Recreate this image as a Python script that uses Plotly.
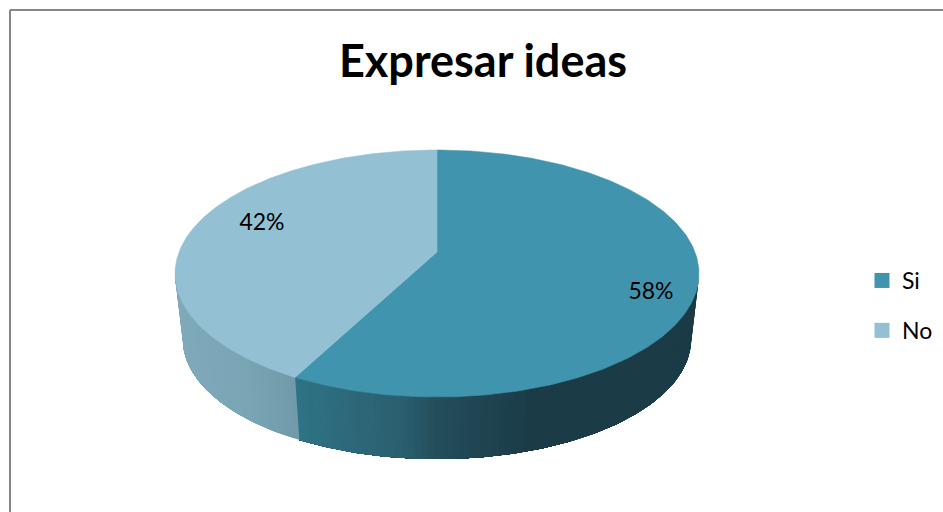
import numpy as np
import plotly.graph_objects as go

# ---- data ----
categories = ["Si", "No"]
values = [57.7, 42.3]
percent_labels = ["58%", "42%"]
title_text = "Expresar ideas"

# ---- style / projection of the tilted disc (screen pixels) ----
top_colors = {"Si": "#4094ae", "No": "#93c0d3"}
W, H = 943, 512
CX, APEX_Y = 437.0, 252.0
A, B, K = 258.0, 119.8, 0.174
LOWER_SCALE, LOWER_APEX_Y = 0.97, 318.4
label_pos = {"Si": (651, 293.5), "No": (262, 224)}

side_stops = {
    "Si": [(296, (47, 114, 133)), (400, (42, 95, 111)), (437, (35, 77, 91)),
           (530, (27, 59, 71)), (700, (27, 59, 71))],
    "No": [(175, (128, 170, 187)), (240, (122, 165, 181)), (300, (111, 152, 168))],
}


def project(theta_deg, scale=1.0, apex_y=APEX_Y):
    t = np.radians(theta_deg)
    u, v = np.sin(t), np.cos(t)
    d = 1 + K * v
    return CX + scale * A * u / d, apex_y - scale * B * v / d


def side_color(cat, x):
    stops = side_stops[cat]
    xs = [s[0] for s in stops]
    rgb = [int(round(np.interp(x, xs, [s[1][i] for s in stops]))) for i in range(3)]
    return "rgb(%d,%d,%d)" % tuple(rgb)


total = sum(values)
bounds = np.concatenate([[0], np.cumsum(values) / total * 360])
EDGE = np.degrees(np.arcsin(K))
vis_lo, vis_hi = 90 + EDGE, 270 - EDGE

fig = go.Figure()

# side wall: painted in overlapping bands so the shading runs horizontally
for i, cat in enumerate(categories):
    lo, hi = max(bounds[i], vis_lo), min(bounds[i + 1], vis_hi)
    if hi <= lo:
        continue
    starts = np.linspace(lo, hi, int((hi - lo) * 0.8) + 2)[:-1]
    for a in starts:
        # a band colour covers everything from its start to the slice end
        arc = np.linspace(a, hi, max(int((hi - a) * 1.5), 2))
        x1, y1 = project(arc)
        x2, y2 = project(arc[::-1], LOWER_SCALE, LOWER_APEX_Y)
        b = min(a + 2.0, hi)
        xa = (project(a)[0] + project(b)[0]) / 2
        col = side_color(cat, xa)
        fig.add_trace(go.Scatter(
            x=np.r_[x1, x2, x1[0]], y=np.r_[y1, y2, y1[0]], mode="lines",
            fill="toself", fillcolor=col, line=dict(color=col, width=0),
            showlegend=False, hoverinfo="skip"))

# top faces
for i, cat in enumerate(categories):
    arc = np.linspace(bounds[i], bounds[i + 1], 240)
    x, y = project(arc)
    fig.add_trace(go.Scatter(
        x=np.r_[CX, x, CX], y=np.r_[APEX_Y, y, APEX_Y], mode="lines",
        fill="toself", fillcolor=top_colors[cat],
        line=dict(color=top_colors[cat], width=0.5),
        showlegend=False, hovertemplate=f"{cat}: {percent_labels[i]}<extra></extra>"))

# percent labels
for i, cat in enumerate(categories):
    lx, ly = label_pos[cat]
    fig.add_trace(go.Scatter(
        x=[lx], y=[ly], mode="text", text=[percent_labels[i]],
        textfont=dict(family="Lato", size=23, color="#000000"),
        showlegend=False, hoverinfo="skip"))

# legend entries
for cat in categories:
    fig.add_trace(go.Scatter(
        x=[None], y=[None], mode="markers", name=cat, legendgroup=cat,
        marker=dict(symbol="square", size=15, color=top_colors[cat])))

fig.update_layout(
    width=W, height=H, margin=dict(l=0, r=0, t=0, b=0),
    paper_bgcolor="white", plot_bgcolor="white",
    xaxis=dict(range=[0, W], visible=False, fixedrange=True),
    yaxis=dict(range=[H, 0], visible=False, fixedrange=True),
    title=dict(text=f"<b>{title_text}</b>", x=483 / W, y=1 - 61 / H, xanchor="center", yanchor="middle",
               font=dict(family="Lato", size=45, color="#000000")),
    legend=dict(x=862 / W, y=1 - 259 / H, xanchor="left", yanchor="top",
                font=dict(family="Lato", size=23, color="#000000"),
                tracegroupgap=17, bgcolor="rgba(0,0,0,0)", itemclick=False, itemdoubleclick=False),
    shapes=[
        dict(type="line", xref="x", yref="y", x0=10, x1=W, y0=10, y1=10, line=dict(color="#868686", width=2)),
        dict(type="line", xref="x", yref="y", x0=10, x1=10, y0=10, y1=H, line=dict(color="#868686", width=2)),
    ],
)

fig.write_html("out.html", config=dict(displayModeBar=False),
               post_script="document.body.style.margin='0';document.body.style.overflow='hidden';")
